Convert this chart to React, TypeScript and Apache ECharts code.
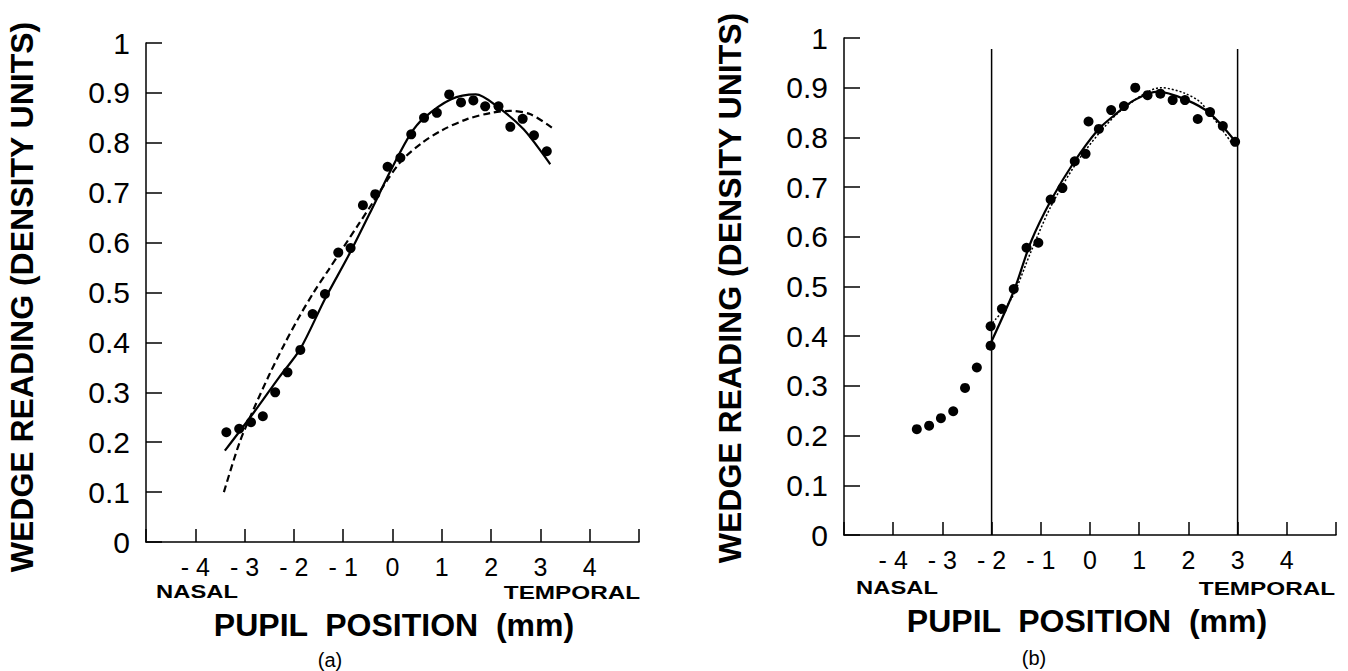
import React, { useEffect, useRef } from "react";
import * as echarts from "echarts";

// ---------- data ----------
// Panel (a)
const aPointsX = [-3.37, -3.11, -2.87, -2.63, -2.38, -2.13, -1.87, -1.62, -1.37, -1.1, -0.85, -0.6, -0.35, -0.1, 0.16, 0.38, 0.64, 0.9, 1.15, 1.39, 1.64, 1.88, 2.15, 2.39, 2.64, 2.87, 3.13];
const aPointsY = [0.22, 0.227, 0.24, 0.252, 0.3, 0.34, 0.385, 0.457, 0.497, 0.58, 0.589, 0.675, 0.697, 0.752, 0.77, 0.817, 0.85, 0.86, 0.897, 0.881, 0.885, 0.873, 0.873, 0.832, 0.848, 0.815, 0.783];
const aSolidX = [-3.4, -2.81, -2.3, -1.87, -1.37, -0.86, -0.39, -0.05, 0.36, 0.64, 1.18, 1.69, 2.12, 2.66, 3.2];
const aSolidY = [0.183, 0.26, 0.33, 0.387, 0.487, 0.58, 0.673, 0.742, 0.817, 0.85, 0.887, 0.897, 0.873, 0.827, 0.757];
const aDashedX = [-3.42, -3.1, -2.8, -2.5, -2.2, -1.9, -1.6, -1.3, -1.0, -0.7, -0.4, -0.1, 0.2, 0.6, 1.0, 1.5, 2.0, 2.4, 2.8, 3.24];
const aDashedY = [0.1, 0.2, 0.27, 0.335, 0.395, 0.45, 0.5, 0.545, 0.59, 0.635, 0.68, 0.726, 0.766, 0.8, 0.825, 0.847, 0.86, 0.864, 0.857, 0.83];

// Panel (b)
const bPointsX = [-3.52, -3.27, -3.03, -2.78, -2.54, -2.3, -2.02, -2.02, -1.79, -1.55, -1.29, -1.05, -0.8, -0.56, -0.31, -0.09, -0.03, 0.18, 0.43, 0.69, 0.92, 1.17, 1.43, 1.68, 1.93, 2.19, 2.44, 2.7, 2.95];
const bPointsY = [0.213, 0.22, 0.235, 0.249, 0.296, 0.337, 0.42, 0.381, 0.455, 0.495, 0.578, 0.588, 0.675, 0.698, 0.752, 0.767, 0.832, 0.817, 0.855, 0.863, 0.9, 0.885, 0.888, 0.875, 0.875, 0.837, 0.851, 0.823, 0.791];
const bSolidX = [-2.0, -1.54, -1.2, -0.79, -0.32, 0.16, 0.5, 0.9, 1.38, 1.92, 2.43, 2.97];
const bSolidY = [0.39, 0.493, 0.59, 0.674, 0.751, 0.815, 0.845, 0.875, 0.892, 0.877, 0.849, 0.79];
const bDottedX = [-1.98, -1.6, -1.2, -0.8, -0.3, 0.2, 0.7, 1.45, 1.92, 2.26, 2.87];
const bDottedY = [0.427, 0.475, 0.57, 0.66, 0.745, 0.81, 0.86, 0.9, 0.889, 0.869, 0.79];
const bBoundsX = [-2, 3];
const bBoundTop = 0.978;

// Axes
const xMin = -5;
const xMax = 5;
const yMin = 0;
const yMax = 1;

const yAxisTitle = "WEDGE READING (DENSITY UNITS)";
const xAxisTitle = "PUPIL  POSITION  (mm)";
const nasalText = "NASAL";
const temporalText = "TEMPORAL";
const panelLabels = ["(a)", "(b)"];

const FONT = "'Liberation Sans', Arial, Helvetica, sans-serif";

const zip = (xs: number[], ys: number[]) => xs.map((x, i) => [x, ys[i]]);

export default function App() {
  const ref = useRef<HTMLDivElement>(null);

  useEffect(() => {
    if (!ref.current) return;
    const chart = echarts.init(ref.current, undefined, { renderer: "svg" });

    const grids = [
      { left: 146, top: 43, width: 493, height: 499 },
      { left: 844, top: 38, width: 492, height: 497 },
    ];

    const mkX = (gi: number) => ({
      type: "value",
      gridIndex: gi,
      min: xMin,
      max: xMax,
      interval: 1,
      splitLine: { show: false },
      axisLine: { onZero: false, lineStyle: { color: "#000", width: 1.5 } },
      axisTick: { inside: true, length: 13, lineStyle: { color: "#000", width: 1.5 } },
      axisLabel: {
        margin: 12,
        fontFamily: FONT,
        fontSize: 25,
        color: "#000",
        formatter: (v: number) => {
          if (v <= xMin || v >= xMax) return "";
          return v < 0 ? "- " + Math.abs(v) : String(v);
        },
      },
    });
    const mkY = (gi: number) => ({
      type: "value",
      gridIndex: gi,
      min: yMin,
      max: yMax,
      interval: 0.1,
      splitLine: { show: false },
      axisLine: { onZero: false, lineStyle: { color: "#000", width: 1.5 } },
      axisTick: { inside: true, length: 16, lineStyle: { color: "#000", width: 1.5 } },
      axisLabel: {
        margin: 16,
        fontFamily: FONT,
        fontSize: 30,
        color: "#000",
        formatter: (v: number) => {
          const r = Math.round(v * 10) / 10;
          if (r === 0) return "0";
          if (r === 1) return "1";
          return r.toFixed(1);
        },
      },
    });

    const lineBase = {
      type: "line",
      showSymbol: false,
      symbol: "none",
      clip: false,
      silent: true,
    };

    const dot = { color: "#000", opacity: 1 };

    const series: any[] = [
      // panel a
      { ...lineBase, name: "a fit solid", xAxisIndex: 0, yAxisIndex: 0, smooth: 0.3, data: zip(aSolidX, aSolidY), lineStyle: { color: "#000", width: 2.2, type: "solid" } },
      { ...lineBase, name: "a fit dashed", xAxisIndex: 0, yAxisIndex: 0, smooth: 0.3, data: zip(aDashedX, aDashedY), lineStyle: { color: "#000", width: 2.2, type: [7, 4] } },
      { type: "scatter", name: "a data", xAxisIndex: 0, yAxisIndex: 0, symbolSize: 10, itemStyle: dot, data: zip(aPointsX, aPointsY), z: 5 },
      // panel b
      ...bBoundsX.map((bx, i) => ({ ...lineBase, name: "b bound " + i, xAxisIndex: 1, yAxisIndex: 1, data: [[bx, yMin], [bx, bBoundTop]], lineStyle: { color: "#000", width: 1.5 } })),
      { ...lineBase, name: "b fit solid", xAxisIndex: 1, yAxisIndex: 1, smooth: 0.3, data: zip(bSolidX, bSolidY), lineStyle: { color: "#000", width: 2.2, type: "solid" } },
      { ...lineBase, name: "b fit dotted", xAxisIndex: 1, yAxisIndex: 1, smooth: 0.3, data: zip(bDottedX, bDottedY), lineStyle: { color: "#000", width: 1.5, type: [2, 2] } },
      { type: "scatter", name: "b data", xAxisIndex: 1, yAxisIndex: 1, symbolSize: 10, itemStyle: dot, data: zip(bPointsX, bPointsY), z: 5 },
    ];

    const txt = (text: string, x: number, y: number, size: number, bold: boolean, extra: any = {}) => ({
      type: "text",
      x,
      y,
      silent: true,
      ...extra,
      style: {
        text,
        fontFamily: FONT,
        fontSize: size,
        fontWeight: bold ? "bold" : "normal",
        fill: "#000",
        align: "center",
        verticalAlign: "middle",
      },
    });

    const graphic: any[] = [
      txt(yAxisTitle, 22, 297, 32, true, { rotation: Math.PI / 2 }),
      txt(yAxisTitle, 730, 288, 32, true, { rotation: Math.PI / 2 }),
      txt(nasalText, 197, 592, 19, true, { scaleX: 1.25 }),
      txt(temporalText, 572, 592, 19, true, { scaleX: 1.28 }),
      txt(nasalText, 897, 588, 19, true, { scaleX: 1.25 }),
      txt(temporalText, 1267, 588, 19, true, { scaleX: 1.28 }),
      txt(xAxisTitle, 394, 625, 32, true),
      txt(xAxisTitle, 1087, 621, 32, true),
      txt(panelLabels[0], 330, 660, 20, false),
      txt(panelLabels[1], 1034, 658, 20, false),
    ];

    chart.setOption({
      animation: false,
      backgroundColor: "#fff",
      grid: grids,
      xAxis: [mkX(0), mkX(1)],
      yAxis: [mkY(0), mkY(1)],
      series,
      graphic,
    });

    return () => chart.dispose();
  }, []);

  return (
    <div
      ref={ref}
      style={{ position: "absolute", left: 0, top: 0, width: 1348, height: 671, background: "#fff" }}
    />
  );
}
